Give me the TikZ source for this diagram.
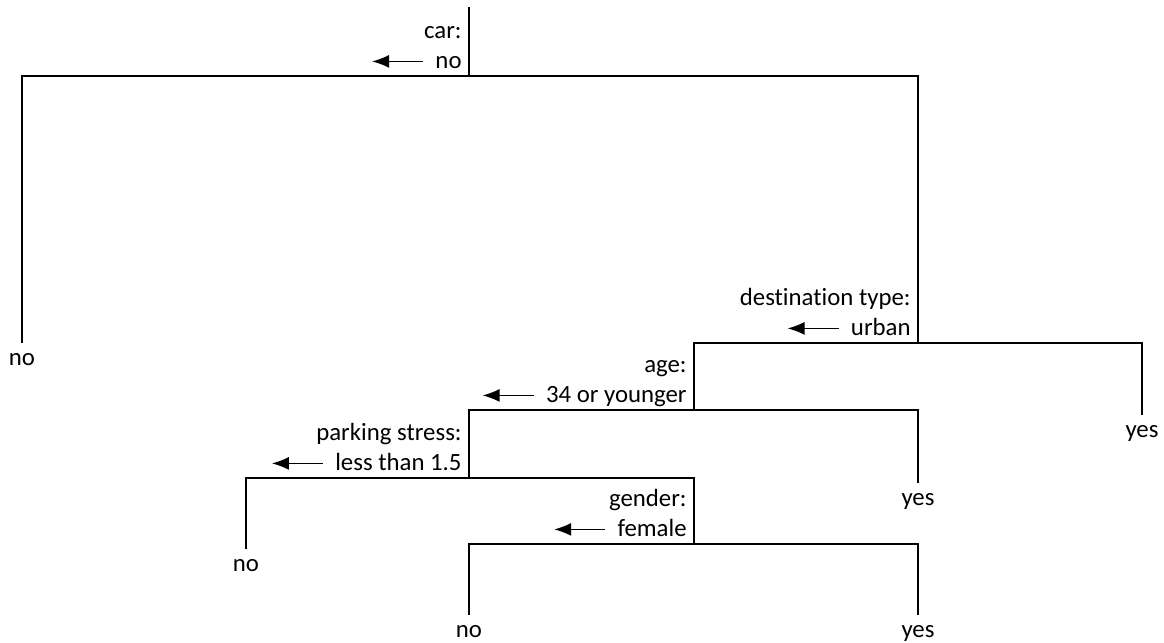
\documentclass[tikz,border=0pt]{standalone}
\usepackage{fontspec}
\setmainfont{Carlito}[Ligatures=NoCommon]
\usetikzlibrary{arrows.meta}

\tikzset{
  question/.style={anchor=base east, inner sep=0pt},
  answer/.style={anchor=base east, inner sep=0pt},
  leaf/.style={anchor=base, inner xsep=0pt, inner ysep=5pt},
  branch/.style={line width=0.75pt},
  goesleft/.style={line width=0.7pt, -{Latex[length=8.5pt,width=6.5pt]}},
}

\begin{document}
\begin{tikzpicture}[x=0.5pt, y=-0.5pt, font=\fontsize{12.4}{15}\selectfont]
\useasboundingbox (0,0) rectangle (1164,643);
\coordinate (top) at (469,7);
\foreach \n/\x/\y/\q/\a in {car/469/76/car:/no, dest/918/343/destination type:/urban, age/694/410/age:/34 or younger, park/469/478/parking stress:/less than 1.5, gender/694/544/gender:/female}{
  \coordinate (\n) at (\x,\y);
  \node[question] (\n-q) at (\x-7,\y-38) {\q};
  \node[answer] (\n-a) at (\x-7,\y-8) {\a};
  \draw[goesleft] ([xshift=-6pt,yshift=3.3pt]\n-a.base west) -- ++(-51,0);
}
\foreach \n/\x/\y/\t in {no1/22/365/no, yes1/1142/437/yes, yes2/918/505/yes, no2/246/571/no, no3/469/637/no, yes3/918/637/yes}{
  \node[leaf] (\n) at (\x,\y) {\t};
}
\draw[branch] (top) -- (car);
\draw[branch] (no1.north) |- (car) -| (dest);
\draw[branch] (age) |- (dest) -| (yes1.north);
\draw[branch] (park) |- (age) -| (yes2.north);
\draw[branch] (no2.north) |- (park) -| (gender);
\draw[branch] (no3.north) |- (gender) -| (yes3.north);
\end{tikzpicture}
\end{document}
